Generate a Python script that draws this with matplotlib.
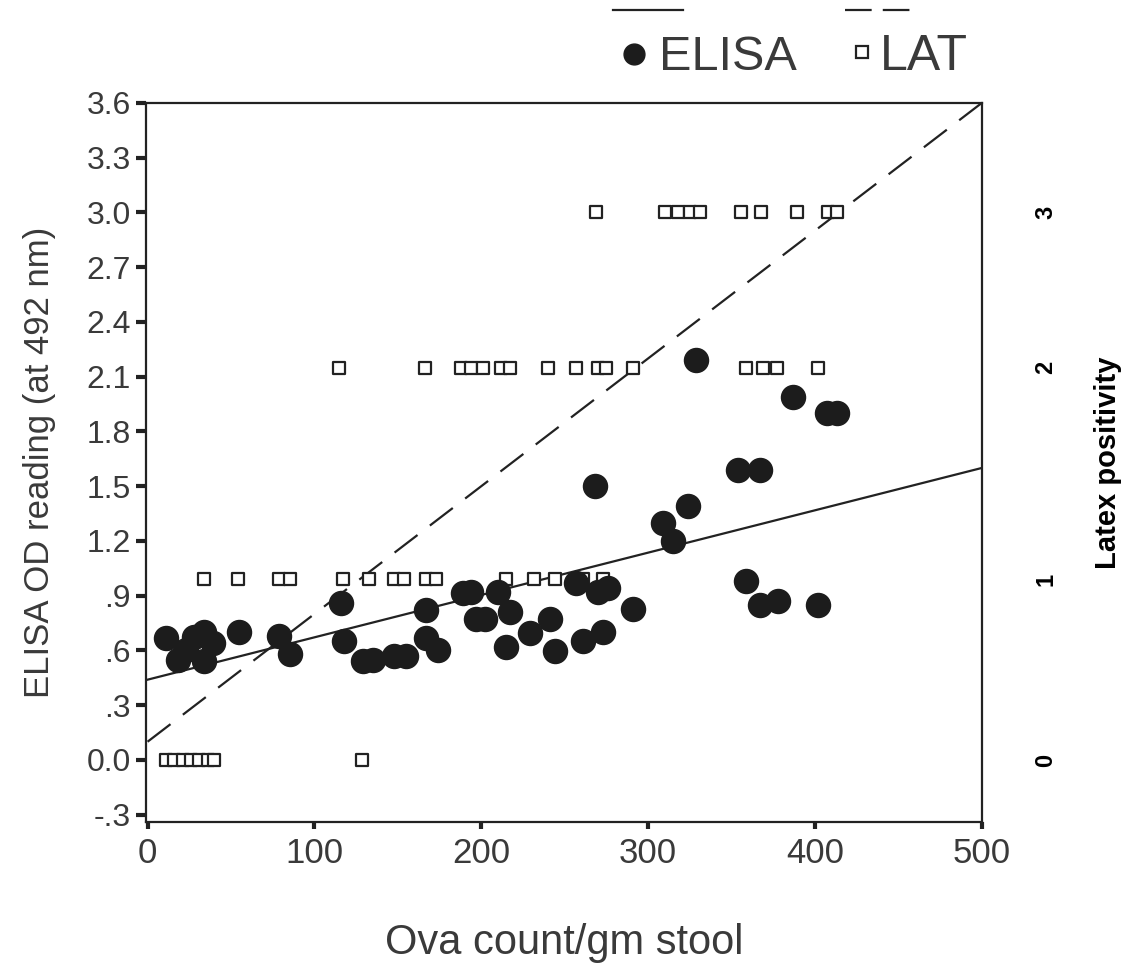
# -*- coding: utf-8 -*-

import matplotlib
matplotlib.use('Agg')
import matplotlib.pyplot as plt
from matplotlib.lines import Line2D

plt.rcParams['font.family'] = ['Liberation Sans', 'DejaVu Sans']

# ELISA OD reading vs ova count
elisa_x = [11, 18, 23, 28, 34, 39, 34, 55, 79, 85.5, 116, 117.5, 129, 135, 148, 155,
           167, 167, 174, 189, 194, 197, 202, 210, 217, 215, 229, 241, 244, 257, 261,
           273, 270, 276, 291, 268, 309, 315, 324, 329, 354, 367, 358.5, 367, 378,
           402, 387, 407, 413]
elisa_y = [0.67, 0.55, 0.60, 0.675, 0.70, 0.64, 0.54, 0.70, 0.68, 0.58, 0.86, 0.65,
           0.54, 0.55, 0.57, 0.57, 0.82, 0.67, 0.60, 0.915, 0.92, 0.775, 0.775, 0.92,
           0.81, 0.62, 0.695, 0.77, 0.595, 0.97, 0.65, 0.70, 0.92, 0.94, 0.83, 1.50,
           1.30, 1.20, 1.39, 2.19, 1.59, 1.59, 0.98, 0.85, 0.87, 0.85, 1.99, 1.90, 1.90]

# latex agglutination score (0-3) vs ova count
lat_x = [11, 16, 21, 26, 31, 36, 40, 128.7,
         34, 54, 79, 85.5, 117, 133, 148, 154, 167, 173, 215, 231.6, 244, 261, 273,
         115, 166, 188, 194, 201, 212, 217, 240, 257, 270, 275, 291, 359, 369, 377, 402,
         268.6, 310, 318, 325, 331, 355.5, 368, 389, 407.7, 413]
lat_score = [0] * 8 + [1] * 15 + [2] * 16 + [3] * 10
# where each score sits on the OD scale in the original figure
lat_level = {0: 0.0, 1: 0.99, 2: 2.15, 3: 3.0}

# regression lines, read at x = 0 and x = 500
fit_x = [0, 500]
elisa_fit = [0.44, 1.60]
lat_fit = [0.10, 3.60]

y_ticks = [-0.3, 0.0, 0.3, 0.6, 0.9, 1.2, 1.5, 1.8, 2.1, 2.4, 2.7, 3.0, 3.3, 3.6]
y_labels = ['-.3', '0.0', '.3', '.6', '.9', '1.2', '1.5', '1.8', '2.1', '2.4',
            '2.7', '3.0', '3.3', '3.6']
x_ticks = [0, 100, 200, 300, 400, 500]
lat_ticks = ['0', '1', '2', '3']

ink = '#222222'
txt = '#3a3a3a'

fig = plt.figure(figsize=(11.31, 9.68), dpi=100)
ax = fig.add_axes([0.129, 0.1508, 0.739, 0.7428])

ax.plot(fit_x, elisa_fit, color=ink, lw=1.6, zorder=2)
ax.plot(fit_x, lat_fit, color=ink, lw=1.6, dashes=(13, 7), zorder=2)

lat_y = [lat_level[s] for s in lat_score]
ax.scatter(lat_x, lat_y, s=75, marker='s', facecolor='white', edgecolor=ink,
           linewidths=1.6, zorder=3)
ax.scatter(elisa_x, elisa_y, s=300, marker='o', color='#1c1c1c', zorder=4)

ax.set_xlim(-1, 500)
ax.set_ylim(-0.34, 3.6)
ax.set_xticks(x_ticks)
ax.set_xticklabels([str(v) for v in x_ticks], fontsize=25, color=txt)
ax.set_yticks(y_ticks)
ax.set_yticklabels(y_labels, fontsize=23, color=txt)
ax.tick_params(axis='y', direction='out', length=7, width=3, color=ink, pad=4)
ax.tick_params(axis='x', direction='out', length=5, width=3, color=ink, pad=6)
for sp in ax.spines.values():
    sp.set_linewidth(1.6)
    sp.set_color(ink)

ax.set_xlabel('Ova count/gm stool', fontsize=30, color=txt, labelpad=38)
ax.set_ylabel('ELISA OD reading (at 492 nm)', fontsize=25, color=txt, labelpad=22)

# right axis for latex score
ax2 = ax.twinx()
ax2.set_ylim(ax.get_ylim())
ax2.set_yticks([lat_level[i] for i in range(4)])
ax2.set_yticklabels(lat_ticks, fontsize=17, fontweight='bold', rotation=90,
                    va='center')
ax2.tick_params(axis='y', length=0, pad=38)
ax2.set_ylabel('Latex positivity', fontsize=21, fontweight='bold', labelpad=26)
for sp in ax2.spines.values():
    sp.set_visible(False)

# legend: line samples above marker + label
fig.add_artist(Line2D([613 / 1131, 683 / 1131], [1 - 10 / 968, 1 - 10 / 968],
                      color=ink, lw=1.6, transform=fig.transFigure))
fig.add_artist(Line2D([845 / 1131, 915 / 1131], [1 - 10 / 968, 1 - 10 / 968],
                      color=ink, lw=1.6, dashes=(12, 5), transform=fig.transFigure))
fig.add_artist(Line2D([634 / 1131], [1 - 54 / 968], marker='o', markersize=15,
                      color='#1c1c1c', lw=0, transform=fig.transFigure))
fig.add_artist(Line2D([862 / 1131], [1 - 52 / 968], marker='s', markersize=8,
                      markerfacecolor='white', markeredgecolor=ink,
                      markeredgewidth=1.6, lw=0, transform=fig.transFigure))
fig.text(659 / 1131, 1 - 57 / 968, 'ELISA', fontsize=35, color=txt, va='center')
fig.text(880 / 1131, 1 - 57 / 968, 'LAT', fontsize=36, color=txt, va='center')

plt.savefig('out.png', dpi=100)
